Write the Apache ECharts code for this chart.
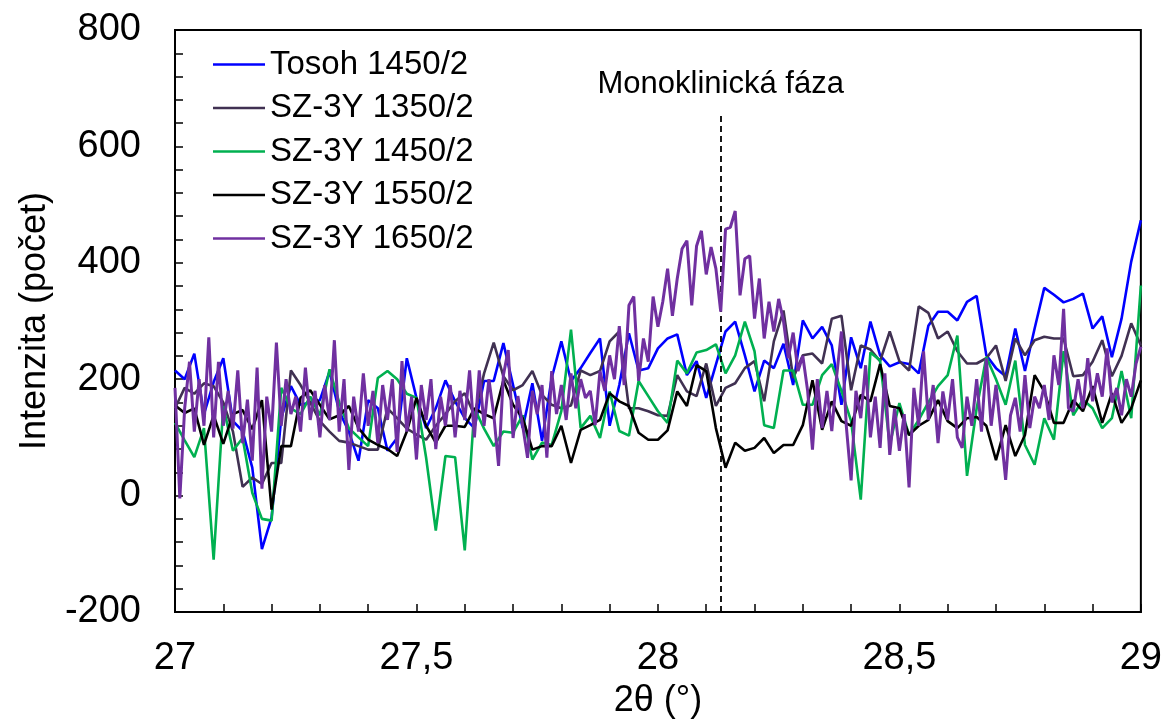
<!DOCTYPE html>
<html>
<head>
<meta charset="utf-8">
<script src="https://cdn.jsdelivr.net/npm/echarts@6/dist/echarts.min.js"></script>
<style>
  html, body { margin: 0; padding: 0; background: #fff; }
  #chart { width: 1165px; height: 724px; }
</style>
</head>
<body>
<div id="chart"></div>
<script>
// ---- data ----
const xStart = 27;
const stepCoarse = 0.02;   // sampling step of the first four patterns
const stepFine = 0.01;     // sampling step of SZ-3Y 1650/2

const seriesNames = ['Tosoh 1450/2', 'SZ-3Y 1350/2', 'SZ-3Y 1450/2', 'SZ-3Y 1550/2', 'SZ-3Y 1650/2'];

const tosoh1450 = [215,200,244,140,195,236,128,111,48,-92, -38,133,188,156,160,164,213,145,110,60,
  164,150,77,99,236,168,116,150,198,162, 133,116,197,197,262,190,116,193,94,202,
  265,197,219,245,270,120,190,279,215,219, 253,270,277,207,231,168,225,282,299,241,
  179,232,219,261,190,301,270,290,258,156, 272,219,299,241,222,229,226,210,292,316,
  316,301,333,343,241,219,205,287,214,287, 357,345,332,338,347,287,308,238,304,402,
  473];

const sz1350 = [150,185,175,193,188,160,110,15,31,20, 56,56,215,190,160,128,110,94,91,85,
  79,79,150,133,115,105,96,120,140,162, 176,138,210,263,205,181,190,214,173,156,
  150,155,215,207,214,265,282,150,150,145, 138,137,207,179,171,227,154,185,193,219,
  231,162,265,318,202,241,244,227,304,309, 181,258,251,231,282,231,215,325,314,270,
  282,248,227,227,236,258,197,270,241,267, 273,270,270,205,207,230,267,205,240,296,
  258];

const sz1450 = [125,95,66,116,-110,154,77,99,5,-40, -43,185,150,140,170,138,217,160,116,100,
  85,202,214,200,175,168,65,-60,68,66, -94,150,115,85,110,108,138,62,91,87,
  145,285,116,137,99,179,111,103,197,171, 145,125,232,210,246,250,260,210,241,299,
  248,121,116,215,215,156,156,207,226,180, 128,-7,246,232,87,159,104,130,160,188,
  207,275,34,150,238,200,156,232,87,53, 133,96,248,138,165,150,116,133,214,133,
  361];

const sz1550 = [155,142,150,87,138,89,140,147,114,164, -24,85,85,168,181,156,131,138,154,116,
  96,87,80,68,110,168,120,91,120,120, 118,150,140,133,198,156,133,79,85,85,
  120,56,113,121,130,176,162,154,108,96, 96,112,179,154,224,214,116,48,91,77,
  82,99,73,87,87,121,198,113,162,128, 120,173,162,226,154,150,104,120,130,164,
  128,116,133,135,120,61,121,68,104,207, 179,125,125,164,145,188,125,176,125,150,
  198];

const sz1650 = [185,-5,150,230,110,200,120,272,100,230, 120,180,115,215,90,165,60,220,12,170,
  110,263,120,200,140,170,110,220,130,180, 100,190,130,267,110,200,44,170,110,210,
  120,180,90,190,130,200,75,231,110,170, 62,190,130,200,80,170,120,190,100,180,
  130,215,100,215,120,200,140,51,207,250, 99,171,120,65,180,140,190,65,214,140,
  190,130,210,150,200,168,180,121,214,180, 241,200,291,190,327,342,197,270,230,342,
  290,333,390,309,373,424,438,327,429,455, 380,427,390,316,458,461,489,344,407,412,
  304,373,270,333,282,338,300,236,280,214, 240,180,79,200,116,180,111,205,282,120,
  26,180,133,224,100,170,82,210,70,150, 77,140,14,185,120,248,130,190,90,179,
  130,200,100,82,170,120,200,110,236,120, 190,111,27,138,168,110,207,116,170,150,
  190,130,241,190,321,150,145,200,150,236, 162,210,170,253,160,185,138,200,170,227,
  256];

const xTicks = { min: 27, max: 29, interval: 0.5 };
const yTicks = { min: -200, max: 800, interval: 200 };

const annotX = 28.13;       // monoclinic phase marker position (2θ)
const annotTop = 655;       // top end of the dashed marker (counts)
const annotText = 'Monoklinická fáza';

const colors = ['#0000FF', '#403152', '#00B050', '#000000', '#7030A0'];

// ---- build ----
function pairs(values, step) {
  return values.map((v, i) => [+(xStart + i * step).toFixed(3), v]);
}
const allValues = [tosoh1450, sz1350, sz1450, sz1550, sz1650];
const steps = [stepCoarse, stepCoarse, stepCoarse, stepCoarse, stepFine];

const FONT = '"Liberation Sans", Arial, sans-serif';

const series = allValues.map((vals, k) => ({
  name: seriesNames[k],
  type: 'line',
  data: pairs(vals, steps[k]),
  showSymbol: false,
  symbol: 'none',
  lineStyle: { color: colors[k], width: k === 4 ? 3 : 2.6 },
  itemStyle: { color: colors[k] },
  z: 2 + k,
  silent: true
}));

series.push({
  name: 'marker',
  type: 'line',
  data: [],
  silent: true,
  markLine: {
    silent: true,
    symbol: ['none', 'none'],
    animation: false,
    lineStyle: { color: '#000', type: [6, 4], width: 1.8 },
    label: {
      show: true,
      position: 'end',
      formatter: annotText,
      color: '#000',
      fontSize: 31,
      fontFamily: FONT,
      distance: 14
    },
    data: [[{ coord: [annotX, yTicks.min] }, { coord: [annotX, annotTop] }]]
  }
});

const chart = echarts.init(document.getElementById('chart'), null, { renderer: 'canvas' });
chart.setOption({
  animation: false,
  backgroundColor: '#fff',
  textStyle: { fontFamily: FONT },
  grid: {
    left: 175, right: 22, top: 30, bottom: 109,
    show: true, borderColor: '#000', borderWidth: 2, backgroundColor: 'transparent'
  },
  legend: {
    data: seriesNames,
    orient: 'vertical',
    left: 208,
    top: 43,
    icon: 'rect',
    itemWidth: 52,
    itemHeight: 2.5,
    itemGap: 10.5,
    textStyle: { fontSize: 33, lineHeight: 32, color: '#000', fontFamily: FONT },
    selectedMode: false
  },
  xAxis: {
    type: 'value',
    min: xTicks.min, max: xTicks.max, interval: xTicks.interval,
    name: '2θ (°)',
    nameLocation: 'middle',
    nameGap: 71,
    nameTextStyle: { fontSize: 36, color: '#000', fontFamily: FONT },
    axisLine: { show: true, onZero: false, lineStyle: { color: '#000', width: 2 } },
    axisTick: { show: true, inside: true, length: 8, lineStyle: { color: '#000', width: 1.5 } },
    minorTick: { show: true, splitNumber: 5, length: 8, lineStyle: { color: '#000', width: 1.5 } },
    splitLine: { show: false },
    axisLabel: {
      fontSize: 38, color: '#000', margin: 28, fontFamily: FONT,
      formatter: v => String(v).replace('.', ',')
    }
  },
  yAxis: {
    type: 'value',
    min: yTicks.min, max: yTicks.max, interval: yTicks.interval,
    name: 'Intenzita (počet)',
    nameLocation: 'middle',
    nameGap: 122,
    nameTextStyle: { fontSize: 36, color: '#000', fontFamily: FONT },
    axisLine: { show: true, onZero: false, lineStyle: { color: '#000', width: 2 } },
    axisTick: { show: true, inside: true, length: 8, lineStyle: { color: '#000', width: 1.5 } },
    minorTick: { show: true, splitNumber: 5, length: 8, lineStyle: { color: '#000', width: 1.5 } },
    splitLine: { show: false },
    axisLabel: { fontSize: 38, color: '#000', margin: 34, fontFamily: FONT }
  },
  series: series
});
</script>
</body>
</html>
